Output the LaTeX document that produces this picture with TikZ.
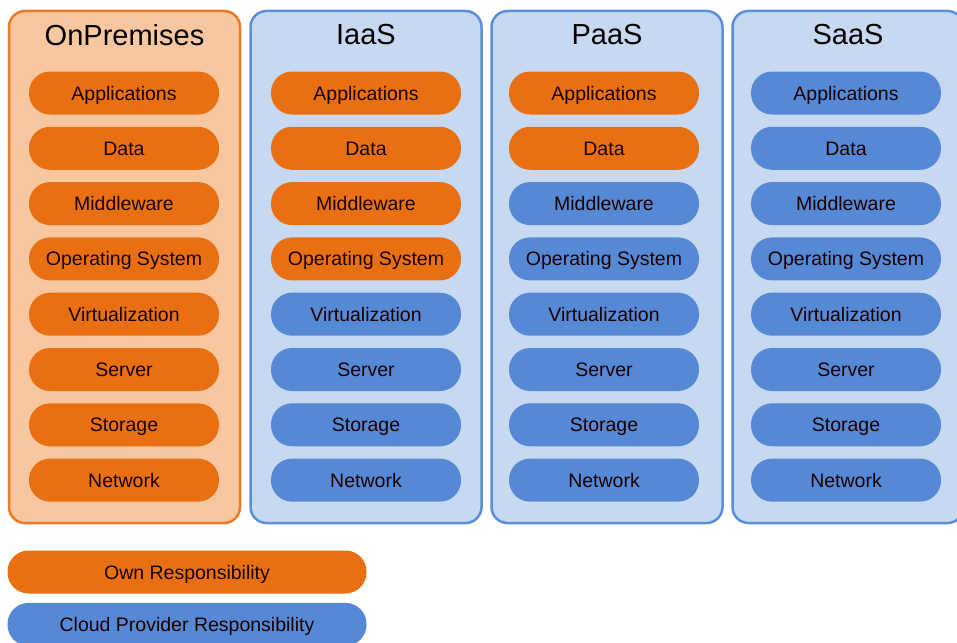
\documentclass[tikz,border=0pt]{standalone}
\usepackage{fontspec}
\setmainfont{Liberation Sans}
\usetikzlibrary{positioning}
\definecolor{ownfill}{HTML}{E97012}
\definecolor{ownbox}{HTML}{F8C7A0}
\definecolor{ownline}{HTML}{EC7A25}
\definecolor{cloudfill}{HTML}{5589D6}
\definecolor{cloudbox}{HTML}{C6D9F1}
\definecolor{cloudline}{HTML}{5B8ED9}

\begin{document}
\begin{tikzpicture}[x=1pt, y=-1pt, font=\fontsize{19.5}{23}\selectfont]
\tikzset{
  column/.style={rectangle, rounded corners=16pt, line width=2.5pt, minimum width=231pt, minimum height=512pt},
  pill/.style={rectangle, rounded corners=21pt, minimum width=190pt, minimum height=43pt, inner sep=0pt, text height=14pt, text depth=0pt, text=black!90!red},
  ownpill/.style={pill, fill=ownfill},
  cloudpill/.style={pill, fill=cloudfill},
  title/.style={font=\fontsize{29}{33}\selectfont},
}
\useasboundingbox (0,0) rectangle (957,642);
% four columns
\foreach \cx/\px/\cname/\ctitle/\nown/\kind in {124.5/124/onprem/OnPremises/8/own, 366/366/iaas/IaaS/4/cloud, 607/604/paas/PaaS/2/cloud, 848/846/saas/SaaS/0/cloud} {
  \node[column, draw=\kind line, fill=\kind box] (\cname) at (\cx,267) {};
  \node[title] (\cname-title) at (\cx,35) {\ctitle};
  \foreach \lbl [count=\i] in {Applications, Data, Middleware, Operating System, Virtualization, Server, Storage, Network} {
    \ifnum\i>\nown \def\pk{cloudpill}\else\def\pk{ownpill}\fi
    \node[\pk] (\cname-\i) at (\px,{93+(\i-1)*55.3}) {\lbl};
  }
}
% legend
\node[ownpill, minimum width=359pt] (own) at (187,572) {Own Responsibility};
\node[cloudpill, minimum width=359pt, below=9pt of own] (cloud) {Cloud Provider Responsibility};
\end{tikzpicture}
\end{document}
